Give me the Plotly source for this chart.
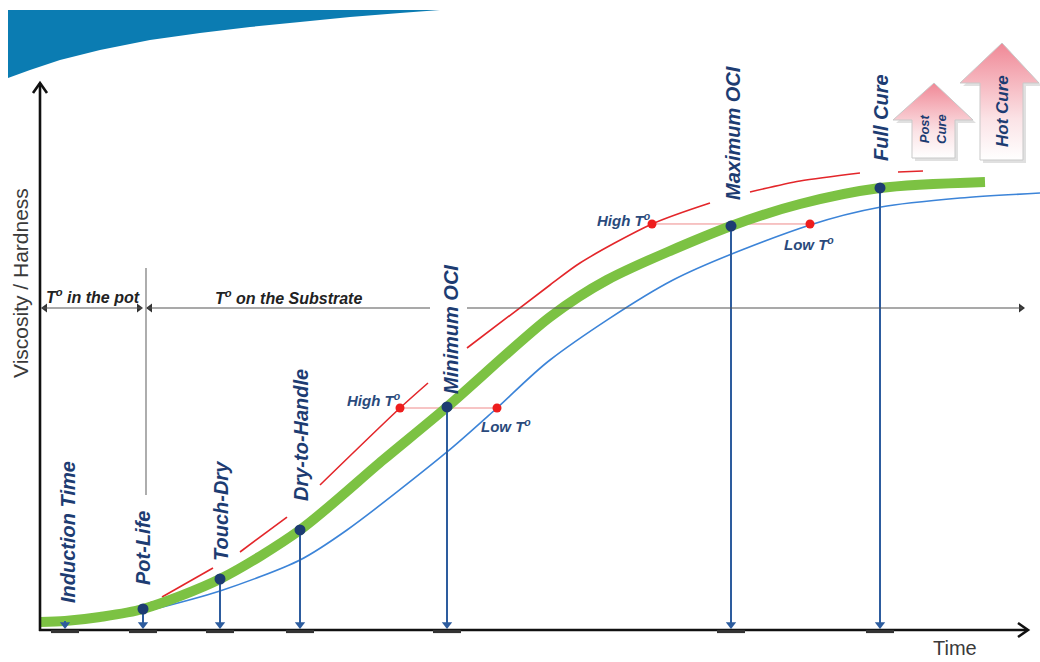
import plotly.graph_objects as go

# ---------------- data (time units, viscosity units) ----------------
green_t = [0, 2.5, 6, 10.3, 18, 26, 34.3, 40.7, 51, 56.7, 69.1, 76, 84, 94.5]
green_v = [1.33, 1.5, 2.17, 3.5, 8.5, 16.67, 28.33, 37.17, 52.17, 58.33, 67.33, 71, 73.67, 74.67]

blue_t = [10.3, 18, 26, 30.7, 40.7, 45.7, 51, 63.3, 77, 84.1, 92, 100]
blue_v = [3.0, 6.5, 11.67, 16.67, 29.67, 37, 45, 58.33, 67.5, 70.5, 72, 72.83]

red_t = [10.3, 11.2, None, 12.2, 17.3, None, 20, 24.7, None, 28, 36, 38.8, None,
         42.7, 51, 54, 61.2, 67, None, 71, 76, 82, None, 85.8, 88.3]
red_v = [4.0, 4.67, None, 5.5, 10.33, None, 13, 18.83, None, 24.17, 37, 41.17, None,
         47, 57.5, 61.17, 67.67, 71.17, None, 73, 74.83, 76.17, None, 76.33, 76.5]

milestones = ["Induction Time", "Pot-Life", "Touch-Dry", "Dry-to-Handle",
              "Minimum OCI", "Maximum OCI", "Full Cure"]
milestone_t = [2.5, 10.3, 18, 26, 40.7, 69.1, 84]
milestone_v = [1.5, 3.5, 8.5, 16.67, 37.17, 67.33, 73.67]

high_t = [36, 61.2]
low_t = [45.7, 77]
temp_v = [37, 67.67]

pot_end_t = 10.3
axis_labels = ["Viscosity / Hardness", "Time"]
zone_labels = ["T<sup>o</sup> in the pot", "T<sup>o</sup> on the Substrate"]
cure_labels = ["Post<br>Cure", "Hot Cure"]

# ---------------- helpers for layout placement (pixel -> axis units) ----------------
def X(px):
    return (px - 40) / 10.0


def Y(py):
    return (630 - py) / 6.0


NAVY = "#1d3c72"
ARROW = "#2d5c9e"
GREY = "#555555"
FONT = "Arial, Liberation Sans, sans-serif"

fig = go.Figure()

# top blue banner
ban = [(8, 10), (440, 10), (400, 13), (350, 17), (300, 22), (250, 27), (200, 33), (150, 40),
       (100, 50), (60, 60), (30, 70), (8, 78), (8, 10)]
fig.add_trace(go.Scatter(x=[X(p[0]) for p in ban], y=[Y(p[1]) for p in ban], mode="lines",
                         fill="toself", fillcolor="#0b7cb2", line=dict(width=0, color="#0b7cb2"),
                         hoverinfo="skip", showlegend=False))

# pink cure arrows
def arrow_poly(tip, head_y, head_l, head_r, body_l, body_r, bottom, dx=0, dy=0):
    pts = [tip, (head_r, head_y), (body_r, head_y), (body_r, bottom), (body_l, bottom),
           (body_l, head_y), (head_l, head_y), tip]
    return [X(p[0] + dx) for p in pts], [Y(p[1] + dy) for p in pts]

arrows_geo = [((934, 83), 120, 893, 973, 912, 955, 158),
              ((1002, 43), 83, 960, 1039, 980, 1023, 160)]
for g in arrows_geo:
    xs, ys = arrow_poly(*g, dx=3, dy=3)
    fig.add_trace(go.Scatter(x=xs, y=ys, mode="lines", fill="toself", fillcolor="rgba(0,0,0,0.12)",
                             line=dict(width=0), hoverinfo="skip", showlegend=False))
for g in arrows_geo:
    xs, ys = arrow_poly(*g)
    fig.add_trace(go.Scatter(x=xs, y=ys, mode="lines", fill="toself",
                             fillgradient=dict(type="vertical",
                                               colorscale=[[0, "#ffffff"], [0.35, "#fbe3e6"], [1, "#f08896"]]),
                             line=dict(width=1, color="#c9c9c9"), hoverinfo="skip", showlegend=False))

# thin temperature connectors
for i in range(len(high_t)):
    fig.add_trace(go.Scatter(x=[high_t[i], low_t[i]], y=[temp_v[i], temp_v[i]], mode="lines",
                             line=dict(color="#ef8a8a", width=1), hoverinfo="skip", showlegend=False))

# curves
fig.add_trace(go.Scatter(x=blue_t, y=blue_v, mode="lines",
                         line=dict(color="#3c84d8", width=1.6, shape="spline", smoothing=0.8),
                         hoverinfo="skip", showlegend=False))
fig.add_trace(go.Scatter(x=red_t, y=red_v, mode="lines", connectgaps=False,
                         line=dict(color="#e3262a", width=1.6, shape="spline", smoothing=0.8),
                         hoverinfo="skip", showlegend=False))
fig.add_trace(go.Scatter(x=green_t, y=green_v, mode="lines",
                         line=dict(color="#7cc243", width=10, shape="spline", smoothing=0.8),
                         hoverinfo="skip", showlegend=False))

# milestone drop lines and arrowheads
drop_x, drop_y = [], []
for t, v in zip(milestone_t, milestone_v):
    drop_x += [t, t, None]
    drop_y += [v, Y(624), None]
fig.add_trace(go.Scatter(x=drop_x, y=drop_y, mode="lines", line=dict(color=ARROW, width=2),
                         hoverinfo="skip", showlegend=False))
fig.add_trace(go.Scatter(x=milestone_t, y=[Y(624.5)] * len(milestone_t), mode="markers",
                         marker=dict(symbol="triangle-down", size=9, color=ARROW),
                         hoverinfo="skip", showlegend=False))

# red temperature dots
fig.add_trace(go.Scatter(x=high_t + low_t, y=temp_v + temp_v, mode="markers",
                         marker=dict(color="#ee1d1d", size=9), hoverinfo="skip", showlegend=False))
# milestone dots
fig.add_trace(go.Scatter(x=milestone_t[1:], y=milestone_v[1:], mode="markers",
                         marker=dict(color=NAVY, size=11), hoverinfo="skip", showlegend=False))

# zone arrowheads
zv = Y(308)
fig.add_trace(go.Scatter(x=[X(45), X(150)], y=[zv, zv], mode="markers",
                         marker=dict(symbol="triangle-left", size=8, color="#333333"),
                         hoverinfo="skip", showlegend=False))
fig.add_trace(go.Scatter(x=[X(139), X(1021)], y=[zv, zv], mode="markers",
                         marker=dict(symbol="triangle-right", size=8, color="#333333"),
                         hoverinfo="skip", showlegend=False))

shapes = []
# axes
shapes.append(dict(type="line", xref="x", yref="y", x0=0, x1=0, y0=Y(631), y1=Y(83),
                   line=dict(color="#111111", width=2.6)))
shapes.append(dict(type="line", xref="x", yref="y", x0=X(39), x1=X(1027), y0=0, y1=0,
                   line=dict(color="#111111", width=2.6)))
shapes.append(dict(type="path", xref="x", yref="y",
                   path=f"M {X(33)},{Y(93)} L {X(40)},{Y(83)} L {X(47)},{Y(93)}",
                   line=dict(color="#111111", width=2.6)))
shapes.append(dict(type="path", xref="x", yref="y",
                   path=f"M {X(1018)},{Y(623)} L {X(1028)},{Y(630)} L {X(1018)},{Y(637)}",
                   line=dict(color="#111111", width=2.6)))
# short bars on the time axis
for t in milestone_t:
    shapes.append(dict(type="line", xref="x", yref="y", x0=t - 1.4, x1=t + 1.4, y0=Y(631.5), y1=Y(631.5),
                       line=dict(color="#333333", width=3.2)))
# pot-life divider
shapes.append(dict(type="line", xref="x", yref="y", x0=X(146), x1=X(146), y0=Y(268), y1=Y(495),
                   line=dict(color="#777777", width=1.2)))
# zone lines (gap behind "Minimum OCI")
for a, b in [(42, 142), (148, 430), (467, 1022)]:
    shapes.append(dict(type="line", xref="x", yref="y", x0=X(a), x1=X(b), y0=zv, y1=zv,
                       line=dict(color=GREY, width=1.2)))
fig.update_layout(shapes=shapes)

ann = []
# zone labels
ann.append(dict(x=X(93), y=Y(296), xref="x", yref="y", showarrow=False,
                text="<b><i>" + zone_labels[0] + "</i></b>", font=dict(family=FONT, size=16, color="#222222")))
ann.append(dict(x=X(288), y=Y(297), xref="x", yref="y", showarrow=False,
                text="<b><i>" + zone_labels[1] + "</i></b>", font=dict(family=FONT, size=16, color="#222222")))

# milestone labels (vertical)
label_px = [(68, 532), (143, 548), (221, 511), (301, 435), (451, 330), (733, 133), (881, 118)]
for name, (px, py) in zip(milestones, label_px):
    ann.append(dict(x=X(px), y=Y(py), xref="x", yref="y", showarrow=False, textangle=-90,
                    text="<b><i>" + name + "</i></b>",
                    font=dict(family=FONT, size=20, color=NAVY)))

# High / Low temperature labels
temp_lab = [("High", 374, 399), ("Low", 506, 425), ("High", 624, 219), ("Low", 809, 243)]
for name, px, py in temp_lab:
    ann.append(dict(x=X(px), y=Y(py), xref="x", yref="y", showarrow=False,
                    text="<b><i>" + name + " T<sup>o</sup></i></b>",
                    font=dict(family=FONT, size=15, color="#2a4a7c")))

# cure arrow texts
ann.append(dict(x=X(933), y=Y(129), xref="x", yref="y", showarrow=False, textangle=-90,
                text="<b><i>" + cure_labels[0] + "</i></b>", font=dict(family=FONT, size=13, color=NAVY)))
ann.append(dict(x=X(1002), y=Y(111), xref="x", yref="y", showarrow=False, textangle=-90,
                text="<b><i>" + cure_labels[1] + "</i></b>", font=dict(family=FONT, size=17, color=NAVY)))

# axis titles
ann.append(dict(x=X(20), y=Y(283), xref="x", yref="y", showarrow=False, textangle=-90,
                text=axis_labels[0], font=dict(family=FONT, size=21, color="#3a3a3a")))
ann.append(dict(x=X(955), y=Y(648), xref="x", yref="y", showarrow=False,
                text=axis_labels[1], font=dict(family=FONT, size=20, color="#3a3a3a")))

fig.update_layout(
    annotations=ann,
    width=1040, height=662,
    margin=dict(l=0, r=0, t=0, b=0),
    paper_bgcolor="white", plot_bgcolor="white",
    xaxis=dict(range=[-4, 100], visible=False, fixedrange=True),
    yaxis=dict(range=[-32 / 6.0, 105], visible=False, fixedrange=True),
    showlegend=False,
)

fig.write_html("out.html", config=dict(displayModeBar=False))
